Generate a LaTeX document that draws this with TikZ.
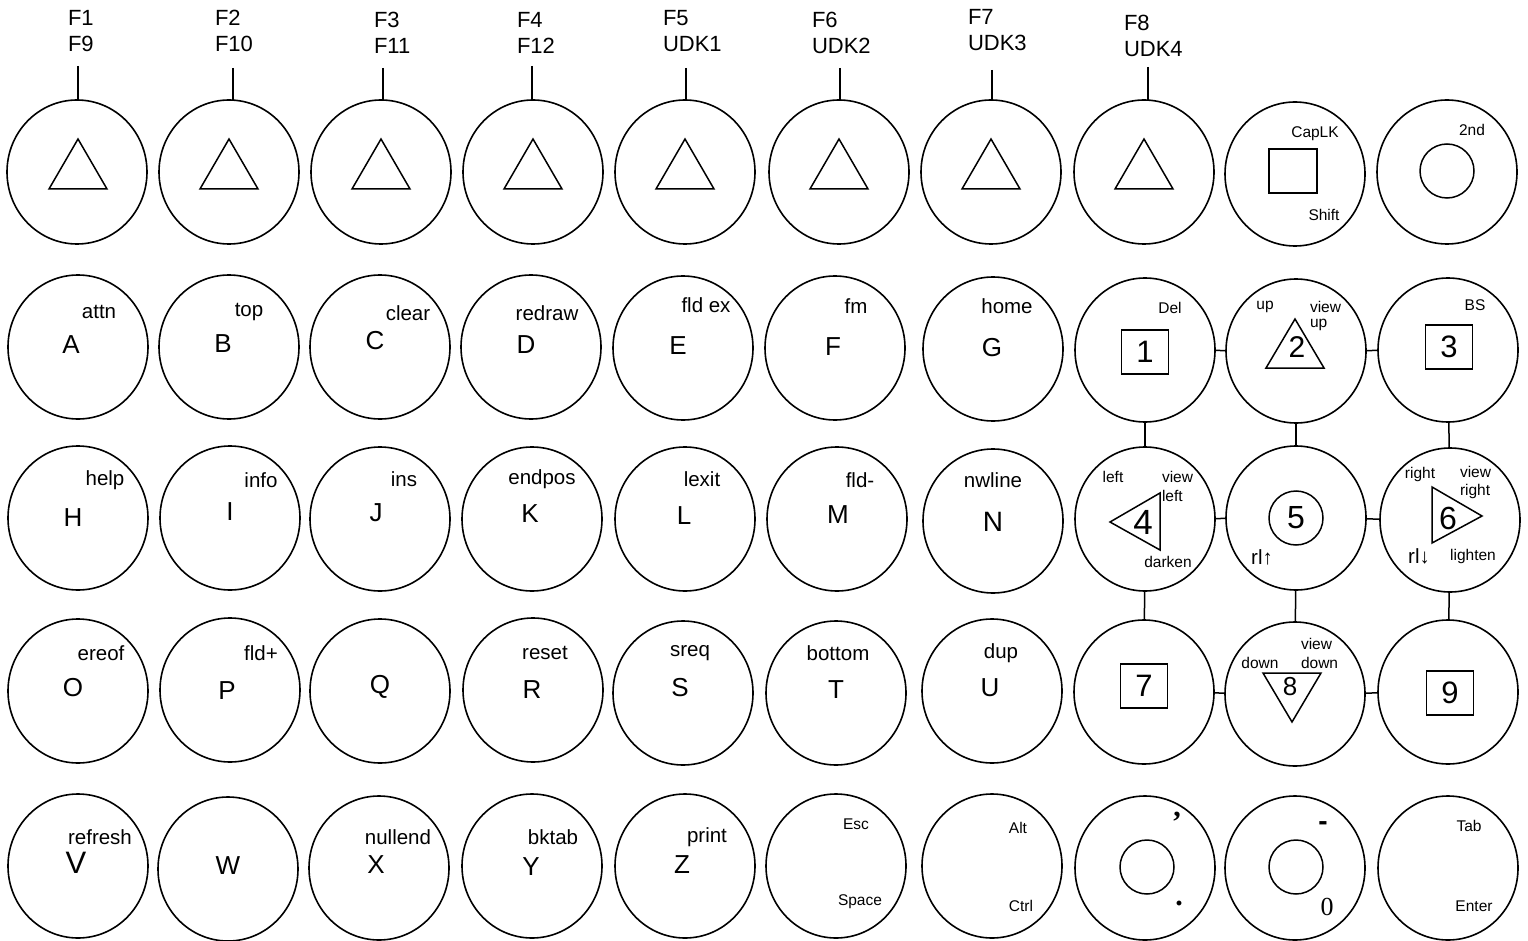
\documentclass[tikz,border=0pt]{standalone}
\usepackage{fontspec}
\setmainfont{Liberation Sans}
\newfontfamily\kserif{Liberation Serif}
\usetikzlibrary{shapes.geometric}
\tikzset{
  every node/.style={inner sep=0pt, outer sep=0pt},
  key/.style={draw, line width=1.6pt, ellipse, minimum width=140pt, minimum height=144pt},
  shp/.style={draw, line width=1.5pt, line join=miter},
  conn/.style={draw, line width=1.5pt},
  sqbox/.style={draw, line width=1.5pt, minimum width=47pt, minimum height=44pt, font=\fontsize{31}{34}\selectfont},
  incirc/.style={draw, line width=1.5pt, circle, minimum size=54pt},
  lt/.style={font=\fontsize{26}{30}\selectfont},
  lb/.style={font=\fontsize{20.5}{24}\selectfont},
  sm/.style={font=\fontsize{15.5}{18}\selectfont},
  fk/.style={font=\fontsize{22}{26.5}\selectfont, align=left, anchor=north west},
}
\begin{document}
\begin{tikzpicture}[x=1pt,y=-1pt]
\fill[white] (0,0) rectangle (1528,941);
\useasboundingbox (0,0) rectangle (1528,941);

% ---------- row 1: function keys ----------
\node[key] (f1) at (77,172) {};
\node[key] (f2) at (229,172) {};
\node[key] (f3) at (381,172) {};
\node[key] (f4) at (533,172) {};
\node[key] (f5) at (685,172) {};
\node[key] (f6) at (839,172) {};
\node[key] (f7) at (991,172) {};
\node[key] (f8) at (1144,172) {};
\node[key] (kcap) at (1295,174) {};
\node[key] (ksnd) at (1447,172) {};

\foreach \c in {78,229,381,533,685,839,991,1144}
  \draw[shp] (\c,139) -- ({\c-29},189) -- ({\c+29},189) -- cycle;

\node[fk] (l1) at (68,10) {F1\\F9};
\node[fk] (l2) at (215,10) {F2\\F10};
\node[fk] (l3) at (374,12) {F3\\F11};
\node[fk] (l4) at (517,12) {F4\\F12};
\node[fk] (l5) at (663,10) {F5\\UDK1};
\node[fk] (l6) at (812,12) {F6\\UDK2};
\node[fk] (l7) at (968,9) {F7\\UDK3};
\node[fk] (l8) at (1124,15) {F8\\UDK4};

\coordinate (t1) at (78,66);
\coordinate (t2) at (233,68);
\coordinate (t3) at (383,68);
\coordinate (t4) at (532,66);
\coordinate (t5) at (686,68);
\coordinate (t6) at (840,68);
\coordinate (t7) at (992,70);
\coordinate (t8) at (1148,67);
\draw[conn] (t1) -- (t1 |- f1.north);
\draw[conn] (t2) -- (t2 |- f2.north);
\draw[conn] (t3) -- (t3 |- f3.north);
\draw[conn] (t4) -- (t4 |- f4.north);
\draw[conn] (t5) -- (t5 |- f5.north);
\draw[conn] (t6) -- (t6 |- f6.north);
\draw[conn] (t7) -- (t7 |- f7.north);
\draw[conn] (t8) -- (t8 |- f8.north);

\draw[shp] (1269,149) rectangle (1317,193);
\node[sm] (capl) at (1315,134) {CapLK};
\node[sm] (shiftl) at (1324,215) {Shift};
\node[incirc] (sndc) at (1447,171) {};
\node[sm] (sndl) at (1472,130) {2nd};

% ---------- row 2 ----------
\node[key] (kA) at (78,347) {};
\node[key] (kB) at (229,347) {};
\node[key] (kC) at (380,347) {};
\node[key] (kD) at (531,347) {};
\node[key] (kE) at (683,348) {};
\node[key] (kF) at (835,348) {};
\node[key] (kG) at (993,349) {};
\node[lt] (tA) at (71,345) {A};   \node[lb] (sA) at (99,312) {attn};
\node[lt] (tB) at (223,344) {B};  \node[lb] (sB) at (249,312) {top};
\node[lt] (tC) at (375,341) {C};  \node[lb] (sC) at (408,313) {clear};
\node[lt] (tD) at (526,345) {D};  \node[lb] (sD) at (547,313) {redraw};
\node[lt] (tE) at (678,346) {E};  \node[lb] (sE) at (706,305) {fld ex};
\node[lt] (tF) at (833,347) {F};  \node[lb] (sF) at (856,306) {fm};
\node[lt] (tG) at (992,348) {G};  \node[lb] (sG) at (1007,306) {home};

% ---------- row 3 ----------
\node[key] (kH) at (78,518) {};
\node[key] (kI) at (230,518) {};
\node[key] (kJ) at (380,519) {};
\node[key] (kK) at (532,519) {};
\node[key] (kL) at (685,519) {};
\node[key] (kM) at (837,519) {};
\node[key] (kN) at (993,521) {};
\node[lt] (tH) at (73,518) {H};   \node[lb] (sH) at (105,480) {help};
\node[lt] (tI) at (230,512) {I};  \node[lb] (sI) at (261,480) {info};
\node[lt] (tJ) at (376,513) {J};  \node[lb] (sJ) at (404,479) {ins};
\node[lt] (tK) at (530,514) {K};  \node[lb] (sK) at (542,479) {endpos};
\node[lt] (tL) at (684,516) {L};  \node[lb] (sL) at (702,479) {lexit};
\node[lt] (tM) at (838,515) {M};  \node[lb] (sM) at (860,480) {fld-};
\node[lt, font=\fontsize{28}{32}\selectfont] (tN) at (993,522) {N};  \node[lb] (sN) at (993,480) {nwline};

% ---------- row 4 ----------
\node[key] (kO) at (78,691) {};
\node[key] (kP) at (230,690) {};
\node[key] (kQ) at (380,691) {};
\node[key] (kR) at (533,690) {};
\node[key] (kS) at (683,693) {};
\node[key] (kT) at (836,693) {};
\node[key] (kU) at (992,691) {};
\node[lt] (tO) at (73,688) {O};   \node[lb] (sO) at (101,653) {ereof};
\node[lt] (tP) at (227,691) {P};  \node[lb] (sP) at (261,653) {fld+};
\node[lt] (tQ) at (380,687) {Q};
\node[lt] (tR) at (532,690) {R};  \node[lb] (sR) at (545,653) {reset};
\node[lt] (tS) at (680,688) {S};  \node[lb] (sS) at (690,653) {sreq};
\node[lt] (tT) at (836,690) {T};  \node[lb] (sT) at (838,653) {bottom};
\node[lt] (tU) at (990,688) {U};  \node[lb] (sU) at (1001,653) {dup};

% ---------- row 5 ----------
\node[key] (kV) at (78,866) {};
\node[key] (kW) at (228,869) {};
\node[key] (kX) at (379,868) {};
\node[key] (kY) at (532,866) {};
\node[key] (kZ) at (685,866) {};
\node[key] (kEsc) at (836,866) {};
\node[key] (kAlt) at (992,866) {};
\node[lt, font=\fontsize{31}{34}\selectfont] (tV) at (76,863) {V};  \node[lb] (sV) at (100,837) {refresh};
\node[lt] (tW) at (228,866) {W};
\node[lt] (tX) at (376,865) {X};  \node[lb] (sX) at (398,837) {nullend};
\node[lt] (tY) at (531,867) {Y};  \node[lb] (sY) at (553,837) {bktab};
\node[lt] (tZ) at (682,865) {Z};  \node[lb] (sZ) at (707,837) {print};
\node[sm] (sEsc) at (856,824) {Esc};
\node[sm] (sSpace) at (860,902) {Space};
\node[sm] (sAlt) at (1018,828) {Alt};
\node[sm] (sCtrl) at (1021,906) {Ctrl};

\node[key] (kcomma) at (1145,868) {};
\node[key] (kzero) at (1295,868) {};
\node[key] (ktab) at (1448,868) {};
\node[incirc] (ccomma) at (1147,867) {};
\node[incirc] (czero) at (1296,867) {};
\node[font=\kserif\bfseries\fontsize{30}{32}\selectfont] (scomma) at (1177,817) {,};
\node[font=\kserif\bfseries\fontsize{30}{32}\selectfont] (sdot) at (1179,903) {.};
\node[font=\bfseries\fontsize{28}{30}\selectfont] (sdash) at (1323,826) {-};
\node[font=\kserif\fontsize{26}{28}\selectfont] (szero) at (1327,907) {0};
\node[sm] (sTab) at (1469,826) {Tab};
\node[sm] (sEnter) at (1474,906) {Enter};

% ---------- numeric keypad ----------
\node[key] (k1) at (1145,350) {};
\node[key] (k2) at (1296,351) {};
\node[key] (k3) at (1448,350) {};
\node[key] (k4) at (1145,519) {};
\node[key] (k5) at (1296,518) {};
\node[key] (k6) at (1450,520) {};
\node[key] (k7) at (1144,692) {};
\node[key] (k8) at (1295,694) {};
\node[key] (k9) at (1448,692) {};

\node[sqbox] (d1) at (1145,352) {1};
\node[sqbox] (d3) at (1449,347) {3};
\node[sqbox] (d7) at (1144,686) {7};
\node[sqbox] (d9) at (1450,693) {9};

\draw[shp] (1295,319) -- (1266,368) -- (1324,368) -- cycle;
\node[font=\fontsize{30}{34}\selectfont] (d2) at (1297,347) {2};
\draw[shp] (1110,522) -- (1160,493) -- (1160,550) -- cycle;
\node[font=\fontsize{35}{38}\selectfont] (d4) at (1143,522) {4};
\node[incirc, font=\fontsize{32}{36}\selectfont] (d5) at (1296,518) {5};
\draw[shp] (1432,487) -- (1432,543) -- (1482,516) -- cycle;
\node[font=\fontsize{32}{36}\selectfont] (d6) at (1448,518) {6};
\draw[shp] (1263,673) -- (1321,673) -- (1292,722) -- cycle;
\node[font=\fontsize{26}{30}\selectfont] (d8) at (1290,687) {8};

\node[sm] (s1) at (1170,308) {Del};
\node[sm] (s2a) at (1265,307) {up};
\node[sm, anchor=west] (s2b) at (1310,307) {view};
\node[sm, anchor=west] (s2c) at (1310,325) {up};
\node[sm] (s3) at (1475,305) {BS};
\node[sm] (s4a) at (1113,477) {left};
\node[sm, anchor=west] (s4b) at (1162,477) {view};
\node[sm, anchor=west] (s4c) at (1162,496) {left};
\node[sm] (s4d) at (1168,562) {darken};
\node[lb] (s5) at (1262,557) {rl↑};
\node[sm] (s6a) at (1420,474) {right};
\node[sm, anchor=west] (s6b) at (1460,472) {view};
\node[sm, anchor=west] (s6c) at (1460,491) {right};
\node[lb] (s6d) at (1419,556) {rl↓};
\node[sm] (s6e) at (1473,556) {lighten};
\node[sm] (s8a) at (1260,663) {down};
\node[sm, anchor=west] (s8b) at (1301,644) {view};
\node[sm, anchor=west] (s8c) at (1301,663) {down};

\draw[conn] (k1) -- (k2);
\draw[conn] (k2) -- (k3);
\draw[conn] (k4) -- (k5);
\draw[conn] (k5) -- (k6);
\draw[conn] (k7) -- (k8);
\draw[conn] (k8) -- (k9);
\draw[conn] (k1) -- (k4);
\draw[conn] (k2) -- (k5);
\draw[conn] (k3) -- (k6);
\draw[conn] (k4) -- (k7);
\draw[conn] (k5) -- (k8);
\draw[conn] (k6) -- (k9);
\end{tikzpicture}
\end{document}
